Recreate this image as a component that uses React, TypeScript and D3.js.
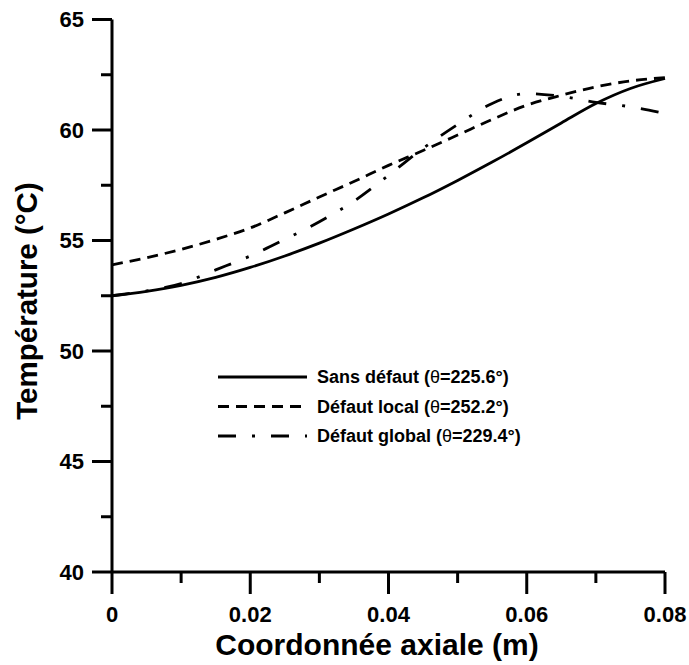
import React from "react";
import * as d3 from "d3";

const xValues = [0, 0.005, 0.01, 0.015, 0.02, 0.025, 0.03, 0.035, 0.04, 0.045, 0.05, 0.055, 0.06, 0.065, 0.07, 0.075, 0.08];
const sansDefaut = [52.5, 52.7, 52.97, 53.33, 53.78, 54.3, 54.88, 55.52, 56.2, 56.93, 57.72, 58.55, 59.42, 60.32, 61.2, 61.88, 62.33];
const defautLocal = [53.9, 54.22, 54.6, 55.05, 55.57, 56.25, 56.97, 57.67, 58.4, 59.07, 59.77, 60.48, 61.12, 61.57, 61.95, 62.22, 62.37];
const defautGlobal = [52.5, 52.72, 53.05, 53.67, 54.3, 55.05, 55.85, 56.78, 57.95, 59.17, 60.25, 61.2, 61.65, 61.52, 61.25, 61.05, 60.75];

const xMajorTicks = [0, 0.02, 0.04, 0.06, 0.08];
const xTickLabels = ["0", "0.02", "0.04", "0.06", "0.08"];
const xMinorTicks = [0.01, 0.03, 0.05, 0.07];
const yMajorTicks = [40, 45, 50, 55, 60, 65];
const yMinorTicks = [42.5, 47.5, 52.5, 57.5, 62.5];

const seriesNames = ["Sans défaut", "Défaut local", "Défaut global"];
const seriesTheta = ["225.6", "252.2", "229.4"];
const seriesDash = ["none", "11,7", "18,16,3,16"];

const FONT = "Liberation Sans, Arial, Helvetica, sans-serif";

export default function App() {
  const W = 689, H = 665;
  const x = d3.scaleLinear().domain([0, 0.08]).range([112, 665]);
  const y = d3.scaleLinear().domain([40, 65]).range([572, 19.5]);
  const series = [sansDefaut, defautLocal, defautGlobal];
  const line = d3.line<number>()
    .x((_, i) => x(xValues[i]))
    .y((d) => y(d))
    .curve(d3.curveMonotoneX);

  const legendY = [377, 406.5, 436];

  return (
    <svg width={W} height={H} style={{ position: "absolute", left: 0, top: 0, background: "#fff" }} fontFamily={FONT}>
      {series.map((s, i) => (
        <path key={i} d={line(s) || ""} fill="none" stroke="#000" strokeWidth={2.8}
          strokeDasharray={seriesDash[i]} strokeLinecap="butt" />
      ))}
      <line x1={x(0)} x2={x(0)} y1={y(65)} y2={y(40)} stroke="#000" strokeWidth={3} />
      <line x1={x(0)} x2={x(0.08)} y1={y(40)} y2={y(40)} stroke="#000" strokeWidth={3} />
      {yMajorTicks.map((t) => (
        <g key={"ym" + t}>
          <line x1={x(0) - 20} x2={x(0)} y1={y(t)} y2={y(t)} stroke="#000" strokeWidth={3} />
          <text x={84} y={y(t)} dy="0.35em" textAnchor="end" fontSize={22} fontWeight="bold">{t}</text>
        </g>
      ))}
      {yMinorTicks.map((t) => (
        <line key={"yn" + t} x1={x(0) - 11} x2={x(0)} y1={y(t)} y2={y(t)} stroke="#000" strokeWidth={3} />
      ))}
      {xMajorTicks.map((t, i) => (
        <g key={"xm" + t}>
          <line x1={x(t)} x2={x(t)} y1={y(40)} y2={y(40) + 22} stroke="#000" strokeWidth={3} />
          <text x={x(t)} y={622} textAnchor="middle" fontSize={22} fontWeight="bold">{xTickLabels[i]}</text>
        </g>
      ))}
      {xMinorTicks.map((t) => (
        <line key={"xn" + t} x1={x(t)} x2={x(t)} y1={y(40)} y2={y(40) + 11} stroke="#000" strokeWidth={3} />
      ))}
      <text x={377} y={655} textAnchor="middle" fontSize={30} fontWeight="bold">Coordonnée axiale (m)</text>
      <text transform="translate(37,301) rotate(-90)" textAnchor="middle" fontSize={29.5} fontWeight="bold">Température (°C)</text>
      {seriesNames.map((n, i) => (
        <g key={"lg" + i}>
          <line x1={218} x2={307} y1={legendY[i]} y2={legendY[i]} stroke="#000" strokeWidth={2.8}
            strokeDasharray={seriesDash[i]} />
          <text x={317} y={legendY[i]} dy="0.35em" fontSize={18} fontWeight="bold">
            {n} (<tspan fontWeight="normal">θ</tspan>={seriesTheta[i]}°)
          </text>
        </g>
      ))}
    </svg>
  );
}
